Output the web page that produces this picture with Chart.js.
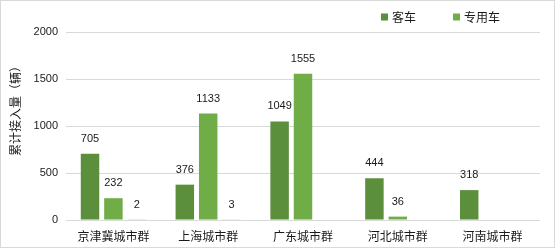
<!DOCTYPE html>
<html>
<head>
<meta charset="utf-8">
<script src="https://cdn.jsdelivr.net/npm/chart.js@4/dist/chart.umd.min.js"></script>
<style>
  html, body { margin: 0; padding: 0; background: #fff; }
  #wrap { width: 553px; height: 246px; border: 1px solid #d9d9d9; position: relative; }
</style>
</head>
<body>
<div id="wrap"><canvas id="c"></canvas></div>
<script>
// Cumulative vehicles connected per city cluster
const categories = ['京津冀城市群', '上海城市群', '广东城市群', '河北城市群', '河南城市群'];
const busValues = [705, 376, 1049, 444, 318];
const specialValues = [232, 1133, 1555, 36, null];
const otherValues = [2, 3, null, null, null];
const yTicks = [0, 500, 1000, 1500, 2000];

const seriesNames = ['客车', '专用车', '其他'];
const seriesColors = ['#5b8f3b', '#70ad47', '#a9d18e'];

const cjkFont = '"Noto Sans CJK SC", "Liberation Sans", sans-serif';
const numFont = '"Liberation Sans", Arial, sans-serif';
const textColor = '#1a1a1a';

// Value labels above each bar
const valueLabels = {
  id: 'valueLabels',
  afterDatasetsDraw(chart) {
    const ctx = chart.ctx;
    ctx.save();
    ctx.font = '11px ' + numFont;
    ctx.fillStyle = textColor;
    ctx.textAlign = 'center';
    ctx.textBaseline = 'middle';
    chart.data.datasets.forEach((ds, i) => {
      const meta = chart.getDatasetMeta(i);
      meta.data.forEach((bar, j) => {
        const v = ds.data[j];
        if (v === null || v === undefined) return;
        ctx.fillText(String(v), bar.x, bar.y - 15);
      });
    });
    ctx.restore();
  }
};

// Legend for the two main series, top right
const topLegend = {
  id: 'topLegend',
  afterDraw(chart) {
    const ctx = chart.ctx;
    ctx.save();
    ctx.font = '12px ' + cjkFont;
    ctx.textBaseline = 'middle';
    ctx.fillStyle = textColor;
    const y = 16;
    const starts = [380, 452];
    [0, 1].forEach((i, k) => {
      const x = starts[k];
      ctx.fillStyle = chart.data.datasets[i].backgroundColor;
      ctx.fillRect(x, y - 3.5, 7, 7);
      ctx.fillStyle = textColor;
      ctx.fillText(chart.data.datasets[i].label, x + 11, y + 0.5);
    });
    ctx.restore();
  }
};

new Chart(document.getElementById('c'), {
  type: 'bar',
  data: {
    labels: categories,
    datasets: [
      { label: seriesNames[0], data: busValues, backgroundColor: seriesColors[0] },
      { label: seriesNames[1], data: specialValues, backgroundColor: seriesColors[1] },
      { label: seriesNames[2], data: otherValues, backgroundColor: seriesColors[2] }
    ]
  },
  options: {
    responsive: true,
    maintainAspectRatio: false,
    animation: false,
    devicePixelRatio: 1,
    datasets: { bar: { categoryPercentage: 0.74, barPercentage: 0.79 } },
    layout: { padding: { top: 31, right: 14, left: 0, bottom: 0 } },
    plugins: {
      legend: { display: false },
      tooltip: { enabled: false }
    },
    scales: {
      x: {
        grid: { display: false, drawTicks: false },
        border: { display: false },
        ticks: { font: { family: cjkFont, size: 12 }, color: textColor, padding: 9, maxRotation: 0 },
        afterFit(scale) { scale.height = 27; }
      },
      y: {
        min: 0,
        max: 2000,
        afterBuildTicks(scale) { scale.ticks = yTicks.map(v => ({ value: v })); },
        grid: { color: '#d9d9d9', drawTicks: false, lineWidth: 1 },
        border: { display: false },
        ticks: {
          font: { family: numFont, size: 11 },
          color: textColor,
          padding: 8,
          callback: (v) => String(v)
        },
        title: {
          display: true,
          text: '　　　累计接入量（辆）',
          font: { family: cjkFont, size: 12 },
          color: textColor,
          padding: { top: 7, bottom: 0 }
        },
        afterFit(scale) { scale.width = 65; }
      }
    }
  },
  plugins: [valueLabels, topLegend]
});
</script>
</body>
</html>
